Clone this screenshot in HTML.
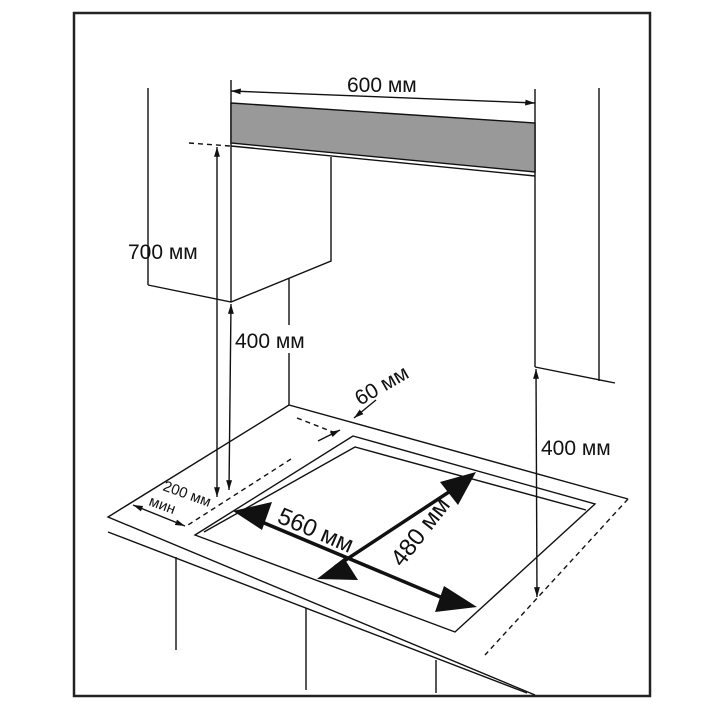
<!DOCTYPE html>
<html><head><style>html,body{margin:0;padding:0;background:#fff}svg{display:block}text{font-family:"Liberation Sans","DejaVu Sans",sans-serif;fill:#111}</style></head>
<body>
<svg width="714" height="714" viewBox="0 0 714 714" xmlns="http://www.w3.org/2000/svg">
<defs>
<marker id="a" viewBox="0 0 10 10" refX="10" refY="5" markerWidth="7" markerHeight="7" orient="auto-start-reverse"><path d="M0,2 L10,5 L0,8 z" fill="#111"/></marker>
</defs>
<rect x="74" y="13" width="576" height="683" fill="none" stroke="#222" stroke-width="2.5"/>
<g stroke="#111" stroke-width="1.4" fill="none">
<line x1="231" y1="80" x2="231" y2="302"/>
<line x1="535" y1="89" x2="535" y2="367"/>
<line x1="231" y1="91" x2="535" y2="103" marker-start="url(#a)" marker-end="url(#a)"/>
<polygon points="231,103 535,123 535,172 231,143" fill="#999"/>
<line x1="231" y1="146" x2="535" y2="176"/>
<line x1="148" y1="88" x2="148" y2="285"/>
<polyline points="148,285 231,302 331,261 331,157"/>
<line x1="289" y1="278" x2="289" y2="325"/>
<line x1="289" y1="353" x2="289" y2="405"/>
<line x1="189" y1="143" x2="230" y2="146" stroke-dasharray="5,4"/>
<line x1="217" y1="147" x2="217" y2="497" marker-start="url(#a)" marker-end="url(#a)"/>
<line x1="231" y1="304" x2="229" y2="490" marker-start="url(#a)" marker-end="url(#a)"/>
<line x1="599" y1="88" x2="599" y2="381"/>
<line x1="535" y1="367" x2="615" y2="383"/>
<line x1="536" y1="369" x2="537" y2="597" marker-start="url(#a)" marker-end="url(#a)"/>
<polyline points="628,499 289,405 108,517 535,695"/>
<line x1="108" y1="532" x2="527" y2="693"/>
<line x1="628" y1="499" x2="485" y2="655" stroke-dasharray="5,4"/>
<line x1="176" y1="557" x2="176" y2="650"/>
<line x1="306" y1="608" x2="306" y2="690"/>
<line x1="436" y1="660" x2="436" y2="693"/>
<polygon points="353,436 595,504 455,632 195,535"/>
<polyline points="204,532 355,447 586,510"/>
<line x1="297" y1="418" x2="333" y2="432" stroke-dasharray="5,4"/>
<line x1="318" y1="441" x2="340" y2="430" marker-end="url(#a)"/>
<line x1="376" y1="400" x2="354" y2="418" marker-end="url(#a)"/>
<line x1="291" y1="459" x2="188" y2="525" stroke-dasharray="5,4"/>
<line x1="133" y1="505" x2="185" y2="526" marker-start="url(#a)" marker-end="url(#a)"/>
</g>
<g stroke="#111" stroke-width="3.5" fill="#111">
<line x1="250" y1="517" x2="450" y2="601"/>
<line x1="455" y1="488" x2="335" y2="567"/>
</g>
<g fill="#111">
<polygon points="233,511 272,502 262,530"/>
<polygon points="477,607 444,586 435,612"/>
<polygon points="476,472 440,482 458,505"/>
<polygon points="317,579 344,558 358,580"/>
</g>
<text x="347" y="92" font-size="21">600 мм</text>
<text x="128" y="259" font-size="21">700 мм</text>
<text x="235" y="348" font-size="21">400 мм</text>
<text x="541" y="455" font-size="21">400 мм</text>
<text font-size="21" transform="translate(360,406) rotate(-30)">60 мм</text>
<text font-size="15" transform="translate(162,490) rotate(20)">200 мм</text>
<text font-size="15" transform="translate(148,505) rotate(20)">мин</text>
<text font-size="24" transform="translate(276,522) rotate(23)">560 мм</text>
<text font-size="24" transform="translate(402,568) rotate(-52)">480 мм</text>
</svg>
</body></html>
